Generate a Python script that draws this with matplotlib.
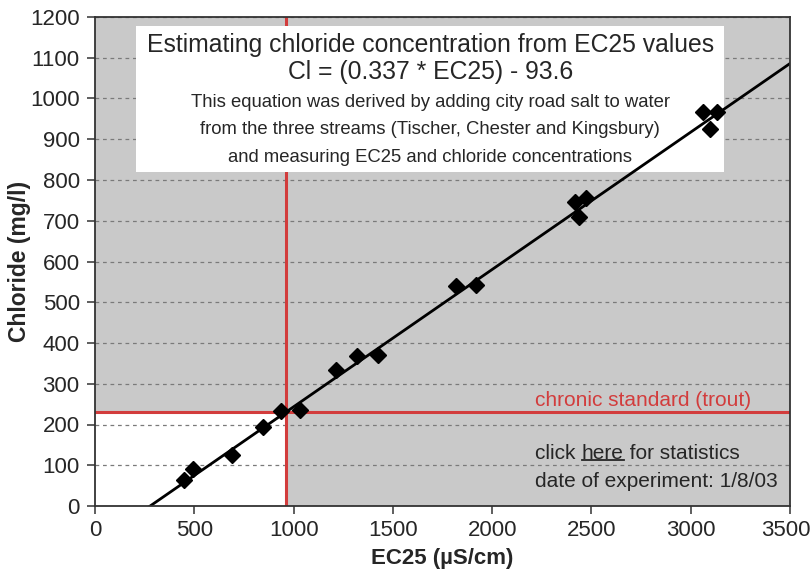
import matplotlib
matplotlib.use("Agg")
import matplotlib.pyplot as plt
from matplotlib.patches import Rectangle
from matplotlib.transforms import ScaledTranslation
import numpy as np

plt.rcParams['font.family'] = ['Liberation Sans', 'DejaVu Sans']

# Measured samples
ec25 = [447, 492, 692, 847, 937, 1030, 1212, 1317, 1427, 1820, 1917,
        2417, 2438, 2475, 3063, 3095, 3133]
chloride = [64, 90, 125, 193, 233, 236, 334, 367, 371, 540, 543,
            747, 710, 755, 967, 924, 967]

# Regression: Cl = slope * EC25 + intercept
slope = 0.337
intercept = -93.6

# Chronic chloride standard for trout (mg/l)
chronic_std = 230
ec_at_std = (chronic_std - intercept) / slope

x_ticks = [0, 500, 1000, 1500, 2000, 2500, 3000, 3500]
y_ticks = list(range(0, 1300, 100))

GRAY = '#c9c9c9'
RED = '#d23c3c'
TXT = '#262626'

fig = plt.figure(figsize=(8.12, 5.79), dpi=100)
ax = fig.add_axes([95/812, 1 - 506/579, 695/812, 489/579])
ax.set_facecolor(GRAY)
ax.set_xlim(0, 3500)
ax.set_ylim(0, 1200)

# White region below the standard and left of its EC25 equivalent
ax.add_patch(Rectangle((0, 0), ec_at_std, chronic_std, facecolor='white',
                       edgecolor='none', zorder=1))

ax.set_yticks(y_ticks)
ax.set_xticks(x_ticks)
ax.yaxis.grid(True, linestyle=(0, (3, 3)), color='#7a7a7a', linewidth=0.9)
ax.xaxis.grid(False)
for g in ax.get_ygridlines():
    g.set_zorder(1.5)

# Threshold lines
ax.axhline(chronic_std, color=RED, linewidth=2.2, zorder=2)
ax.axvline(ec_at_std, color=RED, linewidth=2.2, zorder=2)

# Annotation box
ax.add_patch(Rectangle((208, 820), 2960, 358, facecolor='white',
                       edgecolor='none', zorder=3))
cx = 1688
ax.text(cx, 1131, 'Estimating chloride concentration from EC25 values',
        ha='center', va='center', fontsize=17.8, color=TXT, zorder=3.5)
ax.text(cx, 1065, 'Cl = (0.337 * EC25) - 93.6',
        ha='center', va='center', fontsize=17.8, color=TXT, zorder=3.5)
ax.text(cx, 989, 'This equation was derived by adding city road salt to water',
        ha='center', va='center', fontsize=13.3, color=TXT, zorder=3.5)
ax.text(cx, 923, 'from the three streams (Tischer, Chester and Kingsbury)',
        ha='center', va='center', fontsize=13.3, color=TXT, zorder=3.5)
ax.text(cx, 856, 'and measuring EC25 and chloride concentrations',
        ha='center', va='center', fontsize=13.3, color=TXT, zorder=3.5)

# Regression line from its x-intercept to the right edge
x0 = -intercept / slope
xs = np.array([x0, 3500])
ax.plot(xs, slope * xs + intercept, color='black', linewidth=2, zorder=4)

# Samples
ax.plot(ec25, chloride, linestyle='none', marker='D', markersize=8,
        color='black', zorder=5)

# Side notes
NOTE_FS = 15
ax.text(2218, 260, 'chronic standard (trout)', ha='left', va='center',
        fontsize=NOTE_FS, color=RED, zorder=3.5)
fig.canvas.draw()
renderer = fig.canvas.get_renderer()
t1 = ax.text(2218, 130, 'click ', ha='left', va='center', fontsize=NOTE_FS,
             color=TXT, zorder=3.5)
bb1 = t1.get_window_extent(renderer)
inv = ax.transData.inverted()
x_here = inv.transform((bb1.x1, bb1.y0))[0]
t2 = ax.text(x_here, 130, 'here', ha='left', va='center', fontsize=NOTE_FS,
             color=TXT, zorder=3.5)
bb2 = t2.get_window_extent(renderer)
x_end = inv.transform((bb2.x1, bb2.y0))[0]
ax.text(x_end, 130, ' for statistics', ha='left', va='center',
        fontsize=NOTE_FS, color=TXT, zorder=3.5)
ul_y = inv.transform((0, bb2.y0 + 3))[1]
ax.plot([x_here, x_end], [ul_y, ul_y], color=TXT, linewidth=1.3, zorder=3.5)
ax.text(2218, 59, 'date of experiment: 1/8/03', ha='left', va='center',
        fontsize=NOTE_FS, color=TXT, zorder=3.5)

for s in ax.spines.values():
    s.set_color('#333333')
    s.set_linewidth(1.3)
    s.set_zorder(6)
ax.tick_params(axis='both', direction='out', length=6, width=1.1,
               color='#333333', labelsize=16, labelcolor=TXT)
ax.tick_params(axis='y', pad=5)
ax.tick_params(axis='x', pad=4)

# Keep the last x tick label inside the figure edge
last = ax.get_xticklabels()[-1]
last.set_transform(last.get_transform() +
                   ScaledTranslation(-4 / 100, 0, fig.dpi_scale_trans))

ax.set_xlabel('EC25 (\u00b5S/cm)', fontsize=16, fontweight='bold', color=TXT)
ax.set_ylabel('Chloride (mg/l)', fontsize=16.5, fontweight='bold', color=TXT)
ax.xaxis.set_label_coords(0.5, -0.085)
ax.yaxis.set_label_coords(-0.092, 0.5)

fig.savefig('out.png', dpi=100)
